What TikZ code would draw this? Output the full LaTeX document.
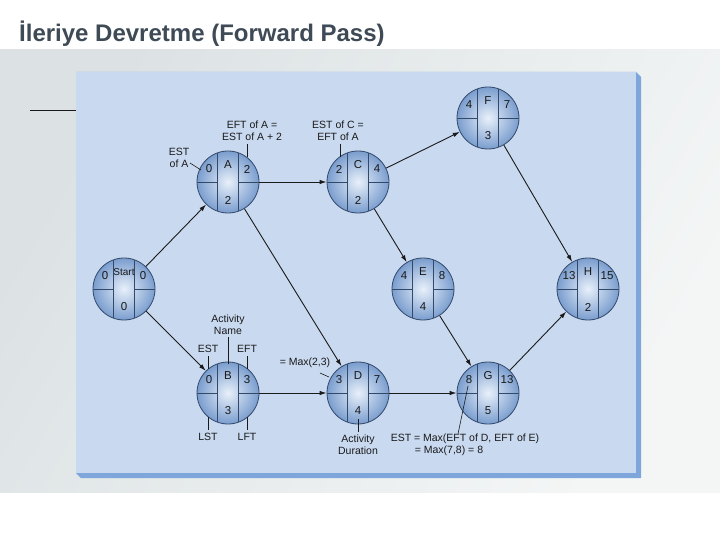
\documentclass[tikz,border=0pt]{standalone}
\usepackage{fontspec}
\setmainfont{Liberation Sans}
\usepackage{tikz}
\usetikzlibrary{arrows.meta,calc,positioning}
\definecolor{Ink}{HTML}{1A1A1A}
\definecolor{TitleGray}{HTML}{3E4A56}
\definecolor{BandDark}{HTML}{DCE2E4}
\definecolor{BandLight}{HTML}{F4F6F6}
\definecolor{Panel}{HTML}{C9D9F0}
\definecolor{PanelShade}{HTML}{7EA6DA}
\definecolor{NodeRim}{HTML}{7A9DCE}
\definecolor{NodeCore}{HTML}{E8F0FA}
\definecolor{NodeEdge}{HTML}{33496A}

\begin{document}
\begin{tikzpicture}[x=1pt,y=-1pt,>={Latex[length=7pt,width=4.5pt]},
    txt/.style={font=\fontsize{10.5}{12}\selectfont,text=Ink,inner sep=0pt,align=center},
    cell/.style={font=\fontsize{11.5}{12}\selectfont,text=Ink,inner sep=0pt},
    actnode/.style={circle,draw=NodeEdge,line width=0.8pt,minimum size=62pt,inner sep=0pt,
      inner color=NodeCore,outer color=NodeRim},
    divider/.style={NodeEdge,line width=0.8pt},
    flow/.style={->,line width=0.9pt,Ink},
    leader/.style={line width=0.6pt,Ink}]
  \useasboundingbox (0,0) rectangle (720,540);
  \fill[white] (0,0) rectangle (720,540);
  % title and backdrop
  \node[anchor=base west,inner sep=0pt,text=TitleGray,font=\fontsize{24}{27}\selectfont\bfseries]
    (title) at (19,42) {İleriye Devretme (Forward Pass)};
  \shade[left color=BandDark,right color=BandLight,shading angle=60] (0,50) rectangle (720,492);
  \coordinate (rulea) at (30,110);
  \coordinate (ruleb) at (76,110);
  \draw[line width=0.6pt,Ink] (rulea) -- (ruleb);
  \fill[PanelShade] (76,72) -- (636,72) -- (641,77) -- (641,478) -- (81,478) -- (76,473) -- cycle;
  \fill[Panel] (76,72) rectangle (636,473);
  % activity nodes: name/x/y/EST/label/EFT/duration
  \foreach \n/\px/\py/\es/\lab/\ef/\du in {start/124/289/0/{\fontsize{10}{12}\selectfont Start}/0/0,
      a/228/182/0/A/2/2, c/358/182/2/C/4/2, f/488/118/4/F/7/3,
      e/423/289/4/E/8/4, h/588/289/13/H/15/2,
      b/228/393/0/B/3/3, d/358/393/3/D/7/4, g/488/393/8/G/13/5}{
    \node[actnode] (\n) at (\px,\py) {};
    \draw[divider] ([xshift=-10.5pt,yshift=29.2pt]\n.center) -- ([xshift=-10.5pt,yshift=-29.2pt]\n.center);
    \draw[divider] ([xshift=10.5pt,yshift=29.2pt]\n.center) -- ([xshift=10.5pt,yshift=-29.2pt]\n.center);
    \draw[divider] ([xshift=-31pt]\n.center) -- ([xshift=-10.5pt]\n.center);
    \draw[divider] ([xshift=10.5pt]\n.center) -- ([xshift=31pt]\n.center);
    \node[cell] at ([xshift=-19pt,yshift=13pt]\n.center) {\es};
    \node[cell] at ([yshift=17pt]\n.center) {\lab};
    \node[cell] at ([xshift=19pt,yshift=13pt]\n.center) {\ef};
    \node[cell] at ([yshift=-18pt]\n.center) {\du};
  }
  % precedence arrows
  \draw[flow] (start) -- (a);
  \draw[flow] (start) -- (b);
  \draw[flow] (a) -- (c);
  \draw[flow] (a) -- (d);
  \draw[flow] (c) -- (f);
  \draw[flow] (c) -- (e);
  \draw[flow] (b) -- (d);
  \draw[flow] (d) -- (g);
  \draw[flow] (e) -- (g);
  \draw[flow] (f) -- (h);
  \draw[flow] (g) -- (h);
  % annotations
  \node[txt] (estA) at (179,158) {EST\\of A};
  \coordinate (estAa) at (190,163);
  \coordinate (estAb) at (201,170);
  \draw[leader] (estAa) -- (estAb);
  \node[txt] (eftA) at (252,131) {EFT of A =\\EST of A + 2};
  \coordinate (eftAa) at (247,144);
  \coordinate (eftAb) at (247,157);
  \draw[leader] (eftAa) -- (eftAb);
  \node[txt] (estC) at (338,131) {EST of C =\\EFT of A};
  \coordinate (estCa) at (340,144);
  \coordinate (estCb) at (340,157);
  \draw[leader] (estCa) -- (estCb);
  \node[txt] (actname) at (228,325) {Activity\\Name};
  \coordinate (actnamea) at (228,337);
  \coordinate (actnameb) at (228,364);
  \draw[leader] (actnamea) -- (actnameb);
  \node[txt] (estlbl) at (208,349) {EST};
  \coordinate (estlbla) at (208,356);
  \coordinate (estlblb) at (208,369);
  \draw[leader] (estlbla) -- (estlblb);
  \node[txt] (eftlbl) at (247,349) {EFT};
  \coordinate (eftlbla) at (247,356);
  \coordinate (eftlblb) at (247,369);
  \draw[leader] (eftlbla) -- (eftlblb);
  \node[txt] (lstlbl) at (208,437) {LST};
  \coordinate (lstlbla) at (208,417);
  \coordinate (lstlblb) at (208,430);
  \draw[leader] (lstlbla) -- (lstlblb);
  \node[txt] (lftlbl) at (247,437) {LFT};
  \coordinate (lftlbla) at (247,417);
  \coordinate (lftlblb) at (247,430);
  \draw[leader] (lftlbla) -- (lftlblb);
  \node[txt] (maxD) at (305,363) {= Max(2,3)};
  \coordinate (maxDa) at (320,373);
  \coordinate (maxDb) at (329,377);
  \draw[leader] (maxDa) -- (maxDb);
  \node[txt] (actdur) at (358,445) {Activity\\Duration};
  \coordinate (actdura) at (358,419);
  \coordinate (actdurb) at (358,432);
  \draw[leader] (actdura) -- (actdurb);
  \node[txt] (estG) at (465,439) {EST = Max(EFT of D, EFT of E)};
  \node[txt] (maxG) at (449,451) {= Max(7,8) = 8};
  \coordinate (estGa) at (468,386);
  \coordinate (estGb) at (458,434);
  \draw[leader] (estGa) -- (estGb);
\end{tikzpicture}
\end{document}
